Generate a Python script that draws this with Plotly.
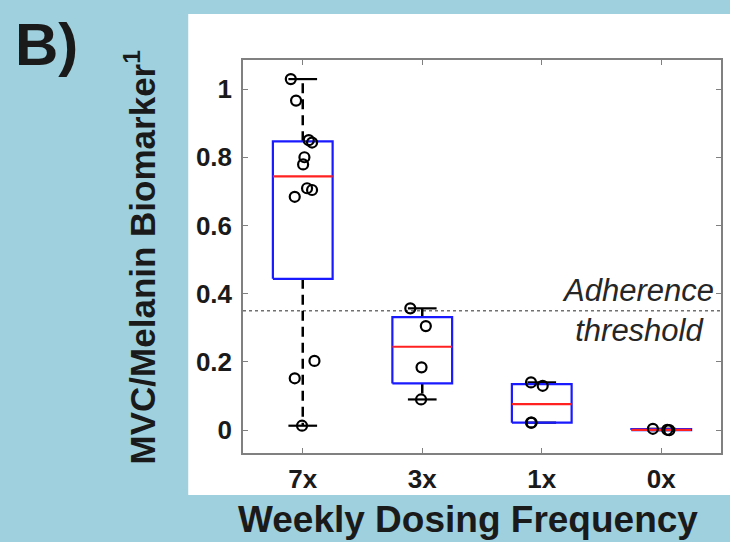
import numpy as np
import plotly.graph_objects as go

# ---- data ----
categories = ["7x", "3x", "1x", "0x"]
values_7x = [1.029, 0.966, 0.850, 0.843, 0.800, 0.779, 0.709, 0.704, 0.684, 0.203, 0.152, 0.013]
jitter_7x = [-0.10, -0.056, 0.05, 0.078, 0.014, 0.003, 0.036, 0.078, -0.067, 0.098, -0.067, -0.006]
values_3x = [0.357, 0.305, 0.184, 0.090]
jitter_3x = [-0.10, 0.03, -0.006, -0.01]
values_1x = [0.140, 0.130, 0.022, 0.022]
jitter_1x = [-0.09, 0.008, -0.09, -0.085]
values_0x = [0.004, 0.001, 0.000]
jitter_0x = [-0.07, 0.05, 0.067]
threshold = 0.35
ytick_vals = [0, 0.2, 0.4, 0.6, 0.8, 1]
ytick_text = ["0", "0.2", "0.4", "0.6", "0.8", "1"]

groups = [values_7x, values_3x, values_1x, values_0x]
jitters = [jitter_7x, jitter_3x, jitter_1x, jitter_0x]

# ---- styles ----
BG = "#9ed0de"
FONT = "Liberation Sans, Arial, sans-serif"
AXC = "#808080"
BOX_HALF = 0.25
CAP_HALF = 0.12

W, H = 730, 542
L, R, T, B = 243, 7, 60, 89
pw, ph = W - L - R, H - T - B

def px_x(p):
    return (p - L) / pw

def px_y(p):
    return (H - B - p) / ph

fig = go.Figure()

# white panel (first, so it sits under everything else)
fig.add_shape(type="rect", xref="paper", yref="paper",
              x0=px_x(188), x1=px_x(735), y0=px_y(495), y1=px_y(14),
              fillcolor="white", line=dict(width=0), layer="below")

fig.add_hline(y=threshold, line=dict(color="#707070", width=1.6, dash="dot"), layer="below")

for i, (vals, jit) in enumerate(zip(groups, jitters)):
    c = i + 1
    v = np.array(vals, dtype=float)
    q1, med, q3 = np.percentile(v, [25, 50, 75], method="hazen")
    iqr = q3 - q1
    lo = v[v >= q1 - 1.5 * iqr].min()
    hi = v[v <= q3 + 1.5 * iqr].max()
    # whiskers (dashed)
    fig.add_trace(go.Scatter(x=[c, c, None, c, c], y=[q3, hi, None, q1, lo], mode="lines",
                             line=dict(color="black", width=2.5, dash="10px,6px"),
                             hoverinfo="skip", showlegend=False))
    # caps
    fig.add_trace(go.Scatter(x=[c - CAP_HALF, c + CAP_HALF, None, c - CAP_HALF, c + CAP_HALF],
                             y=[hi, hi, None, lo, lo], mode="lines",
                             line=dict(color="black", width=2.2),
                             hoverinfo="skip", showlegend=False))
    # box
    fig.add_trace(go.Scatter(x=[c - BOX_HALF, c + BOX_HALF, c + BOX_HALF, c - BOX_HALF, c - BOX_HALF],
                             y=[q1, q1, q3, q3, q1], mode="lines",
                             line=dict(color="#1a1aff", width=2.2),
                             hoverinfo="skip", showlegend=False))
    # median
    fig.add_trace(go.Scatter(x=[c - BOX_HALF, c + BOX_HALF], y=[med, med], mode="lines",
                             line=dict(color="#ff2020", width=2.2),
                             hoverinfo="skip", showlegend=False))
    # points
    fig.add_trace(go.Scatter(x=[c + j for j in jit], y=vals, mode="markers",
                             marker=dict(symbol="circle-open", size=10, color="black",
                                         line=dict(width=2.2, color="black")),
                             showlegend=False))

fig.add_annotation(text="Adherence<br>threshold", xref="paper", yref="y",
                   x=px_x(640), y=threshold, xanchor="center", yanchor="middle",
                   align="center", showarrow=False,
                   font=dict(family=FONT, size=31, color="#262626", style="italic"))

fig.add_annotation(text="<b>Weekly Dosing Frequency</b>", xref="paper", yref="paper",
                   x=px_x(469), y=px_y(519), xanchor="center", yanchor="middle",
                   showarrow=False, font=dict(family=FONT, size=37, color="#1a1a1a"))

fig.add_annotation(text="<b>MVC/Melanin Biomarker<sup>1</sup></b>", xref="paper", yref="paper",
                   x=px_x(140), y=px_y(257), xanchor="center", yanchor="middle",
                   textangle=-90, showarrow=False,
                   font=dict(family=FONT, size=35, color="#1a1a1a"))

fig.add_annotation(text="<b>B)</b>", xref="paper", yref="paper",
                   x=px_x(12), y=px_y(44), xanchor="left", yanchor="middle",
                   showarrow=False, font=dict(family=FONT, size=60, color="#1a1a1a"))

fig.update_layout(
    width=W, height=H, margin=dict(l=L, r=R, t=T, b=B, pad=0),
    paper_bgcolor=BG, plot_bgcolor="white",
    xaxis=dict(range=[0.5, 4.5], tickvals=[1, 2, 3, 4], ticktext=categories,
               showline=True, mirror="allticks", linecolor=AXC, linewidth=1.5,
               ticks="inside", ticklen=5, tickcolor=AXC, tickwidth=1.2,
               showgrid=False, zeroline=False, ticklabelstandoff=2,
               tickfont=dict(family=FONT, size=26, color="#1a1a1a", weight="bold")),
    yaxis=dict(range=[-0.067, 1.085], tickvals=ytick_vals, ticktext=ytick_text,
               showline=True, mirror="allticks", linecolor=AXC, linewidth=1.5,
               ticks="inside", ticklen=5, tickcolor=AXC, tickwidth=1.2,
               showgrid=False, zeroline=False, ticklabelstandoff=4,
               tickfont=dict(family=FONT, size=26, color="#1a1a1a", weight="bold")),
)

fig.write_html("out.html")
